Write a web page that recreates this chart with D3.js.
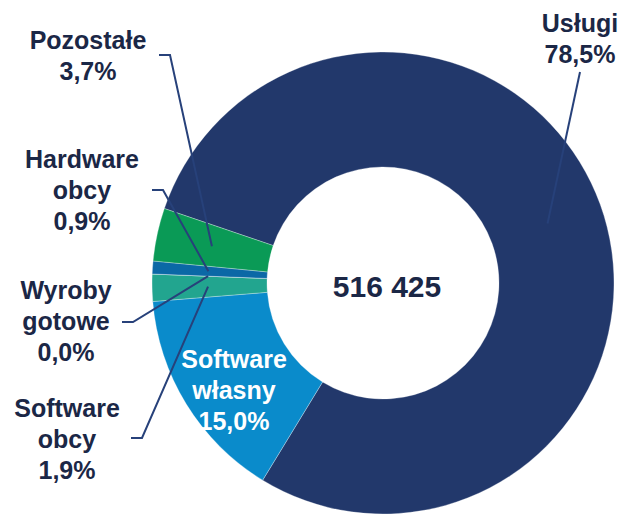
<!DOCTYPE html>
<html><head><meta charset="utf-8">
<script src="https://cdn.jsdelivr.net/npm/d3@7"></script>
<style>html,body{margin:0;padding:0;background:#fff;}svg{display:block;}</style>
</head><body>
<svg id="chart" width="622" height="515"></svg>
<script>
// ---- data ----
const categories = ["Usługi", "Software własny", "Software obcy", "Wyroby gotowe", "Hardware obcy", "Pozostałe"];
const labelLines = [["Usługi"], ["Software", "własny"], ["Software", "obcy"], ["Wyroby", "gotowe"], ["Hardware", "obcy"], ["Pozostałe"]];
const shares = [78.5, 15.0, 1.9, 0.0, 0.9, 3.7];
const shareLabels = ["78,5%", "15,0%", "1,9%", "0,0%", "0,9%", "3,7%"];
const totalLabel = "516 425";

// ---- styles / layout ----
const colors = ["#22386B", "#0A8BCB", "#22A58F", "#1B9C8A", "#0B68A6", "#0A9A56"];
const textColor = "#1B2746";
const lineColor = "#27417A";
const cx = 383, cy = 283, rOuter = 231, rInner = 116, rLeader = 175;
const startDeg = -71.2;
// label layout: text centre x, first baseline y, elbow point (x,y), horizontal end x
const layout = [
  {x: 580, y: 32, inside: false, elbow: [580, 72], end: null},
  {x: 234, y: 368, inside: true},
  {x: 67, y: 417, elbow: [142, 438], end: 131},
  {x: 66, y: 299, elbow: [133, 322], end: 122},
  {x: 82, y: 168, elbow: [163, 190], end: 152},
  {x: 88, y: 49, elbow: [170, 55], end: 159}
];
const fontSize = 25, lineH = 31;

const svg = d3.select("#chart");
const g = svg.append("g").attr("transform", `translate(${cx},${cy})`);

const data = categories.map((c, i) => ({name: c, value: shares[i], i}));
const pie = d3.pie().value(d => d.value).sort(null)
  .startAngle(startDeg * Math.PI / 180)
  .endAngle(startDeg * Math.PI / 180 + 2 * Math.PI);
const arcs = pie(data);
const arc = d3.arc().innerRadius(rInner).outerRadius(rOuter);
const leaderArc = d3.arc().innerRadius(rLeader).outerRadius(rLeader);

g.selectAll("path.slice").data(arcs).join("path")
  .attr("class", "slice")
  .attr("d", arc)
  .attr("fill", d => colors[d.data.i])
  .attr("stroke", "#fff").attr("stroke-width", 0.6).attr("stroke-opacity", 0.5);

// leader lines
arcs.forEach(a => {
  const L = layout[a.data.i];
  if (L.inside) return;
  const c = leaderArc.centroid(a);
  const p0 = [cx + c[0], cy + c[1]];
  const pts = [p0, L.elbow];
  if (L.end !== null && L.end !== undefined) pts.push([L.end, L.elbow[1]]);
  svg.append("path")
    .attr("d", d3.line()(pts))
    .attr("fill", "none").attr("stroke", lineColor).attr("stroke-width", 2);
});

// labels
arcs.forEach(a => {
  const i = a.data.i, L = layout[i];
  const lines = labelLines[i].concat([shareLabels[i]]);
  const t = svg.append("text")
    .attr("text-anchor", "middle")
    .attr("font-family", "'Liberation Sans', Arial, sans-serif")
    .attr("font-weight", "bold")
    .attr("font-size", fontSize)
    .attr("fill", L.inside ? "#ffffff" : textColor);
  lines.forEach((s, k) => {
    t.append("tspan").attr("x", L.x).attr("y", L.y + k * lineH).text(s);
  });
});

// centre total
svg.append("text")
  .attr("x", cx + 4).attr("y", 297)
  .attr("text-anchor", "middle")
  .attr("font-family", "'Liberation Sans', Arial, sans-serif")
  .attr("font-weight", "bold").attr("font-size", 30)
  .attr("fill", textColor)
  .text(totalLabel);
</script>
</body></html>
